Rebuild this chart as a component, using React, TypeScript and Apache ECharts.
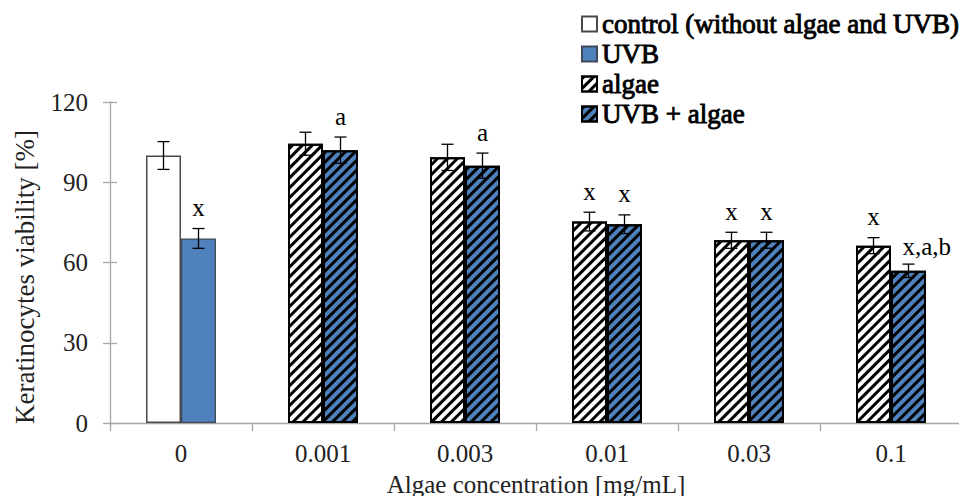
import React, { useEffect, useRef } from "react";
import * as echarts from "echarts";

const categories = ["0", "0.001", "0.003", "0.01", "0.03", "0.1"];
// left bar of each group: control (at 0) / algae (others)
const leftMeans = [100, 104.4, 99.3, 75.3, 68.3, 66.3];
const leftErrors = [5.2, 4.3, 4.9, 3.5, 3, 3];
const leftLabels = ["", "", "", "x", "x", "x"];
// right bar of each group: UVB (at 0) / UVB + algae (others)
const rightMeans = [69, 102, 96.2, 74.3, 68.3, 56.9];
const rightErrors = [3.7, 4.9, 4.7, 3.5, 3, 2.5];
const rightLabels = ["x", "a", "a", "x", "x", "x,a,b"];

const seriesNames = ["control (without algae and UVB)", "UVB", "algae", "UVB + algae"];
const yTicks = { min: 0, max: 120, interval: 30 };

const FONT = "Liberation Serif";
const BAR_W = 35;
const AXIS_COLOR = "#A6A6A6";
const BLUE = "#4F81BD";

const hatch = {
  symbol: "rect",
  symbolSize: 1,
  color: "#000",
  dashArrayX: [1, 0],
  dashArrayY: [2.5, 3.5],
  rotation: -Math.PI / 4,
};

export default function App() {
  const ref = useRef<HTMLDivElement>(null);
  useEffect(() => {
    if (!ref.current) return;
    const chart = echarts.init(ref.current, null, { renderer: "svg" });

    const controlData = leftMeans.map((v, i) => (i === 0 ? v : "-"));
    const algaeData = leftMeans.map((v, i) => (i > 0 ? v : "-"));
    const uvbData = rightMeans.map((v, i) => (i === 0 ? v : "-"));
    const uvbAlgaeData = rightMeans.map((v, i) => (i > 0 ? v : "-"));

    const errData: number[][] = [];
    const errLabels: string[] = [];
    categories.forEach((_, i) => {
      errData.push([i, 0, leftMeans[i], leftErrors[i]]);
      errLabels.push(leftLabels[i]);
      errData.push([i, 1, rightMeans[i], rightErrors[i]]);
      errLabels.push(rightLabels[i]);
    });

    const barBase = { type: "bar", barWidth: BAR_W, barGap: "0%" };
    // faux-bold serif (stroke around regular glyphs)
    const legendText = {
      fontFamily: FONT,
      fontSize: 27,
      lineHeight: 30,
      color: "#000",
      textBorderColor: "#000",
      textBorderWidth: 0.9,
    };

    chart.setOption({
      animation: false,
      backgroundColor: "#fff",
      textStyle: { fontFamily: FONT },
      grid: { left: 110, right: 5, top: 102, bottom: 81 },
      legend: {
        orient: "vertical",
        left: 581,
        top: 9,
        padding: 0,
        itemWidth: 15,
        itemHeight: 15,
        itemGap: 0,
        icon: "rect",
        data: seriesNames,
        textStyle: legendText,
      },
      xAxis: {
        type: "category",
        data: categories,
        axisLine: { show: true, lineStyle: { color: AXIS_COLOR, width: 1.3 } },
        axisTick: { show: true, length: 8, interval: 0, lineStyle: { color: AXIS_COLOR, width: 1.3 } },
        axisLabel: { margin: 18, fontFamily: FONT, fontSize: 25, color: "#222" },
        name: "Algae concentration [mg/mL]",
        nameLocation: "middle",
        nameGap: 49,
        nameTextStyle: { fontFamily: FONT, fontSize: 25, color: "#222" },
      },
      yAxis: [
        {
          type: "value",
          ...yTicks,
          axisLine: { show: true, lineStyle: { color: AXIS_COLOR, width: 1.3 } },
          axisTick: { show: true, length: 7, lineStyle: { color: AXIS_COLOR, width: 1.3 } },
          axisLabel: { margin: 22, fontFamily: FONT, fontSize: 25, color: "#222" },
          splitLine: { show: false },
        },
        {
          type: "value",
          ...yTicks,
          position: "left",
          axisLine: { show: false },
          axisTick: { show: true, inside: true, length: 7, lineStyle: { color: AXIS_COLOR, width: 1.3 } },
          axisLabel: { show: false },
          splitLine: { show: false },
        },
      ],
      graphic: [
        {
          type: "text",
          x: 25,
          y: 277,
          rotation: Math.PI / 2,
          style: {
            text: "Keratinocytes viability [%]",
            font: `27px "${FONT}"`,
            fill: "#222",
            align: "center",
            verticalAlign: "middle",
          },
        },
      ],
      series: [
        {
          ...barBase,
          name: seriesNames[0],
          stack: "left",
          data: controlData,
          itemStyle: { color: "#fff", borderColor: "#4a4a4a", borderWidth: 1.5 },
        },
        {
          ...barBase,
          name: seriesNames[1],
          stack: "right",
          data: uvbData,
          itemStyle: { color: BLUE, borderColor: "#404a58", borderWidth: 1.3 },
        },
        {
          ...barBase,
          name: seriesNames[2],
          stack: "left",
          data: algaeData,
          itemStyle: { color: "#fff", borderColor: "#000", borderWidth: 2, decal: hatch },
        },
        {
          ...barBase,
          name: seriesNames[3],
          stack: "right",
          data: uvbAlgaeData,
          itemStyle: { color: BLUE, borderColor: "#000", borderWidth: 2, decal: hatch },
        },
        {
          type: "custom",
          name: "errors",
          z: 10,
          silent: true,
          encode: { x: 0, y: 2 },
          data: errData,
          renderItem: (params: any, api: any) => {
            const idx = api.value(0);
            const slot = api.value(1);
            const mean = api.value(2);
            const err = api.value(3);
            const c = api.coord([idx, mean]);
            const x = c[0] + (slot === 0 ? -BAR_W / 2 : BAR_W / 2);
            const top = api.coord([idx, mean + err])[1];
            const bot = api.coord([idx, mean - err])[1];
            const cap = 6;
            const ls = { stroke: "#000", lineWidth: 1.3 };
            const label = errLabels[params.dataIndex];
            const children: any[] = [
              { type: "line", shape: { x1: x, y1: top, x2: x, y2: bot }, style: ls },
              { type: "line", shape: { x1: x - cap, y1: top, x2: x + cap, y2: top }, style: ls },
              { type: "line", shape: { x1: x - cap, y1: bot, x2: x + cap, y2: bot }, style: ls },
            ];
            if (label) {
              const long = label.length > 1;
              children.push({
                type: "text",
                x: long ? x - 6 : x,
                y: top - (long ? 18 : 21),
                style: {
                  text: label,
                  font: `25px "${FONT}"`,
                  fill: "#000",
                  align: long ? "left" : "center",
                  verticalAlign: "middle",
                },
              });
            }
            return { type: "group", children };
          },
        },
      ],
    });
    return () => chart.dispose();
  }, []);
  return <div ref={ref} style={{ width: 967, height: 504, margin: -8 }} />;
}
